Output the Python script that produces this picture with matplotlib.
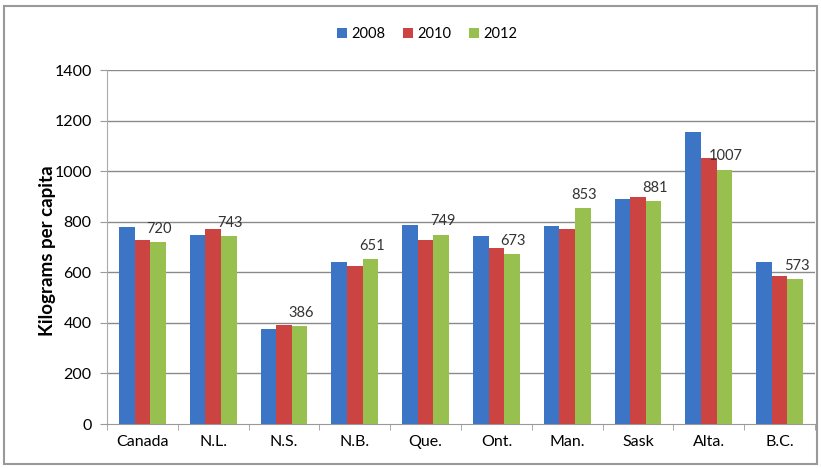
import matplotlib.pyplot as plt
import numpy as np
from matplotlib.patches import Rectangle

plt.rcParams['font.family'] = ['Lato', 'DejaVu Sans']

provinces = ['Canada', 'N.L.', 'N.S.', 'N.B.', 'Que.', 'Ont.', 'Man.', 'Sask', 'Alta.', 'B.C.']
years = ['2008', '2010', '2012']
v2008 = [780, 747, 375, 641, 787, 743, 783, 890, 1155, 641]
v2010 = [727, 773, 392, 625, 730, 698, 773, 899, 1052, 585]
v2012 = [720, 743, 386, 651, 749, 673, 853, 881, 1007, 573]
colors = ['#3C74C6', '#CC4441', '#98C04F']

fig = plt.figure(figsize=(8.21, 4.68), dpi=100)
ax = fig.add_axes([0.1303, 0.094, 0.8624, 0.756])

x = np.arange(len(provinces))
w = 0.22
series = [v2008, v2010, v2012]
for i in range(3):
    ax.bar(x + (i - 1) * w, series[i], width=w, color=colors[i], label=years[i], zorder=3)

# labels only on the 2012 bars
for xi, v in zip(x, v2012):
    ax.text(xi + w + 0.02, v + 25, str(v), ha='center', va='bottom', fontsize=10.5, color='#333333')

ax.set_xlim(-0.5, len(provinces) - 0.5)
ax.set_ylim(0, 1400)
ax.set_yticks(range(0, 1401, 200))
ax.set_xticks(x)
ax.set_xticklabels(provinces, fontsize=11.5)
ax.set_xticks(np.arange(-0.5, len(provinces), 1), minor=True)
ax.tick_params(axis='x', which='major', length=0, pad=8)
ax.tick_params(axis='x', which='minor', length=4, color='#999999')
ax.tick_params(axis='y', length=5, color='#999999', labelsize=11.5, pad=6)

for yv in range(200, 1401, 200):
    ax.axhline(yv, color='#8a8a8a', lw=1, zorder=1)

for s in ['top', 'right']:
    ax.spines[s].set_visible(False)
ax.spines['left'].set_color('#aaaaaa')
ax.spines['bottom'].set_color('#999999')

ax.set_ylabel('Kilograms per capita', fontsize=13.5, fontweight='bold')
ax.yaxis.set_label_coords(-0.072, 0.49)

fig.legend(loc='upper center', bbox_to_anchor=(0.52, 0.97), ncol=3, frameon=False,
           fontsize=10.5, handlelength=0.7, handleheight=0.7, columnspacing=1.2, handletextpad=0.3)

fig.patches.append(Rectangle((0.005, 0.008), 0.99, 0.98, transform=fig.transFigure,
                             fill=False, edgecolor='#999999', lw=1.5))

fig.savefig('out.png', dpi=100)
